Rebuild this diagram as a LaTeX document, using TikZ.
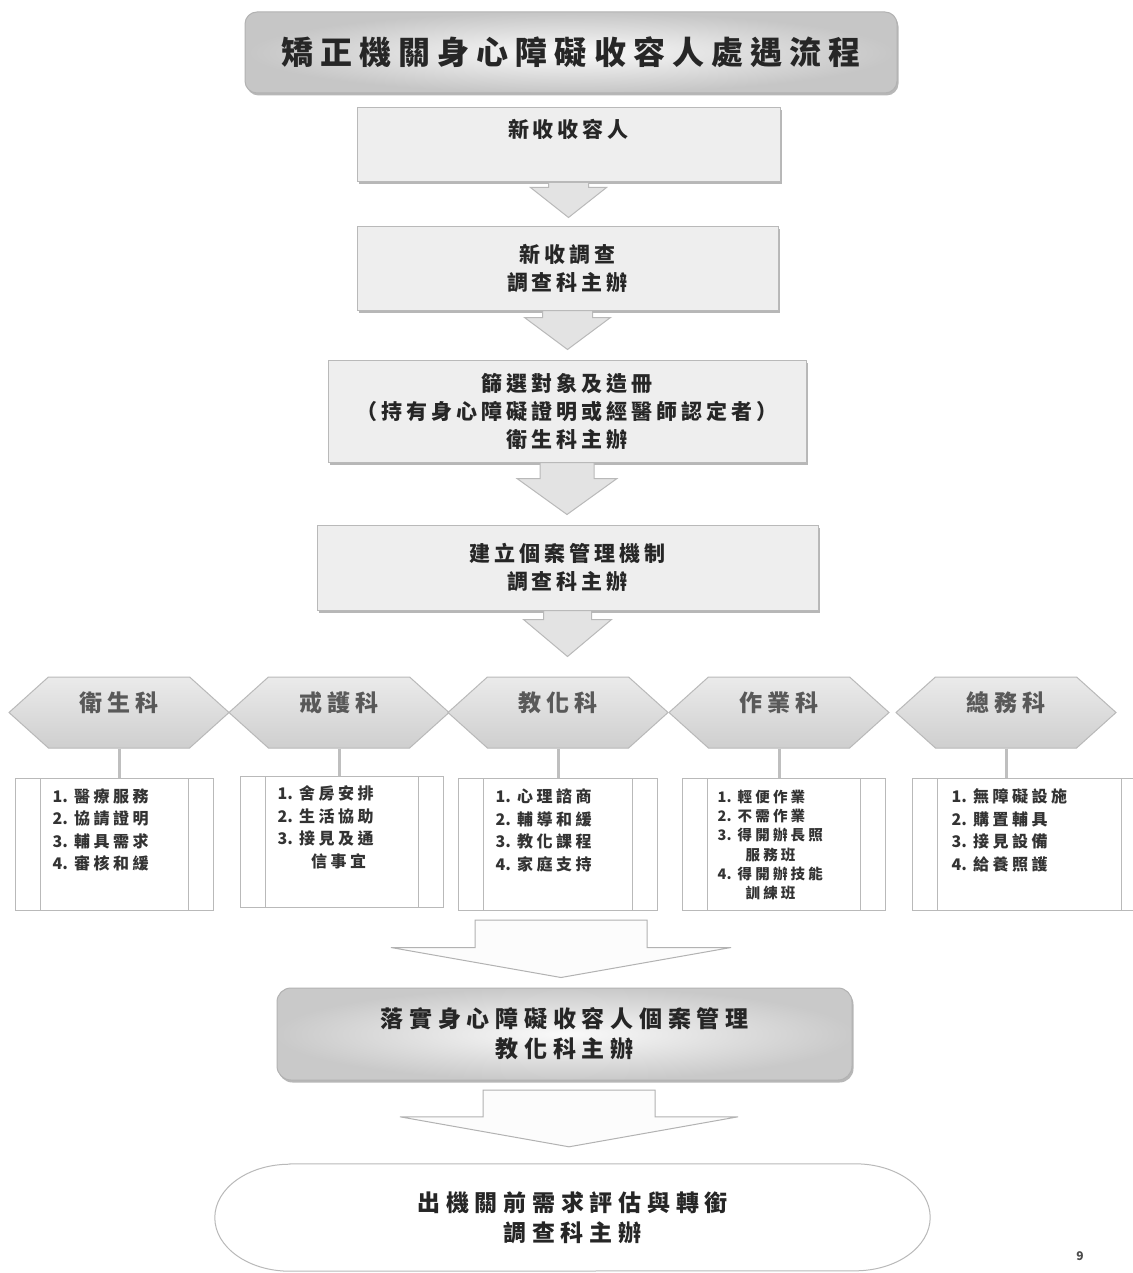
\documentclass[tikz,border=0pt]{standalone}
\usepackage{fontspec}
\newfontfamily\cjk{Noto Sans CJK TC}
\usetikzlibrary{calc,shapes.symbols,shadows}

\newcommand{\titlefont}{\cjk\bfseries\fontsize{32}{38}\addfontfeature{LetterSpace=22}}
\newcommand{\boxfont}{\cjk\bfseries\fontsize{21}{28}\addfontfeature{LetterSpace=19}}
\newcommand{\bigfont}{\cjk\bfseries\fontsize{23}{30}\addfontfeature{LetterSpace=25}}
\newcommand{\hexfont}{\cjk\bfseries\fontsize{23}{27}\addfontfeature{LetterSpace=20}}
\newcommand{\listfont}{\cjk\bfseries\fontsize{16}{22.5}\addfontfeature{LetterSpace=22}}
\newcommand{\smalllistfont}{\cjk\bfseries\fontsize{14.5}{19.3}\addfontfeature{LetterSpace=22}}
\newcommand{\itemno}[1]{{\addfontfeature{LetterSpace=0}#1}\hspace{6pt}}

\newcommand{\fatarrow}[7][]{%
  \draw[blockarr,#1] ($(#2)+(-#5,0)$) -- ($(#2|-#3.north)+(-#5,#4+#7)$)
    -- ($(#2|-#3.north)+(-#6,#4+#7)$) -- ($(#2|-#3.north)+(0,#4)$)
    -- ($(#2|-#3.north)+(#6,#4+#7)$) -- ($(#2|-#3.north)+(#5,#4+#7)$)
    -- ($(#2)+(#5,0)$) -- cycle;}

\begin{document}
\begin{tikzpicture}[x=1pt,y=1pt,
      shade/.style={drop shadow={shadow xshift=1.5pt,shadow yshift=-2.5pt,fill=gray!70,opacity=0.8}},
      titlebox/.style={draw=gray!60,line width=1pt,rounded corners=12pt,shading=radial,inner color=gray!4,outer color=gray!45,shade,font=\titlefont,text=black!85},
      stepbox/.style={draw=gray!55,line width=1pt,fill=gray!13,shade,align=center,font=\boxfont,text=black!85},
      implbox/.style={draw=gray!60,line width=1pt,rounded corners=14pt,shading=radial,inner color=gray!4,outer color=gray!42,shade,align=center,font=\bigfont,text=black!85},
      exitbox/.style={align=center,font=\bigfont,text=black!85},
      hexbox/.style={signal,signal to=west and east,signal pointer angle=84,draw=gray!55,line width=1pt,top color=gray!16,bottom color=gray!38,minimum width=220,minimum height=71,inner sep=0pt,font=\hexfont,text=black!65,text height=10pt,text depth=12pt},
      listbox/.style={draw=gray!55,line width=1pt,fill=white,minimum height=132,
        path picture={\draw[gray!55,line width=1pt] ([xshift=25pt]path picture bounding box.north west) -- ([xshift=25pt]path picture bounding box.south west)
          ([xshift=-25pt]path picture bounding box.north east) -- ([xshift=-25pt]path picture bounding box.south east);}},
      listtxt/.style={font=\listfont,align=left,anchor=north west,inner sep=0pt,text=black!80},
      stem/.style={draw=gray!50,line width=3pt},
      blockarr/.style={fill=gray!22,draw=gray!55,line width=1pt,line join=miter},
      bigarr/.style={fill=gray!2,draw=gray!60}]
      \useasboundingbox[fill=white] (0,0) rectangle (1132,-1273);

      \node[titlebox,minimum width=652,minimum height=81] (title) at (571,-52.5) {矯正機關身心障礙收容人處遇流程};

      \node[stepbox,minimum width=423,minimum height=74,text height=8pt,text depth=23pt] (intake) at (568.5,-145) {新收收容人};
      \node[stepbox,minimum width=421,minimum height=83] (survey) at (567.5,-268.5) {新收調查\\調查科主辦};
      \node[stepbox,minimum width=478,minimum height=102] (screen) at (567,-411) {篩選對象及造冊\\（持有身心障礙證明或經醫師認定者）\\衛生科主辦};
      \node[stepbox,minimum width=501,minimum height=85] (casemgmt) at (567.5,-567.5) {建立個案管理機制\\調查科主辦};

      \fatarrow{intake.south}{survey}{9}{20}{38}{30}
      \fatarrow{survey.south}{screen}{10}{25}{43}{32}
      \fatarrow{screen.south}{casemgmt}{10}{27}{50}{36}

      % five sections
      \node[hexbox] (hws) at (119,-712.5) {衛生科};
      \node[hexbox] (hgd) at (339,-712.5) {戒護科};
      \node[hexbox] (hjh) at (558,-712.5) {教化科};
      \node[hexbox] (hzy) at (779,-712.5) {作業科};
      \node[hexbox] (hzw) at (1006,-712.5) {總務科};

      \fatarrow{casemgmt.south}{hjh}{20}{24}{44}{37}

      \node[listbox,minimum width=198] (lws) at (114,-844) {};
      \node[listbox,minimum width=203,minimum height=131] (lgd) at (341.5,-841.5) {};
      \node[listbox,minimum width=199] (ljh) at (557.5,-844) {};
      \node[listbox,minimum width=203] (lzy) at (783.5,-844) {};
      \node[listbox,minimum width=234] (lzw) at (1029,-844) {};

      \node[listtxt] (lws-t) at ($(lws.north west)+(38,-11)$) {\itemno{1.}醫療服務\\\itemno{2.}協請證明\\\itemno{3.}輔具需求\\\itemno{4.}審核和緩};
      \node[listtxt] (lgd-t) at ($(lgd.north west)+(38,-10)$) {\itemno{1.}舍房安排\\\itemno{2.}生活協助\\\itemno{3.}接見及通\\\phantom{\itemno{3.}}\hspace*{12pt}信事宜};
      \node[listtxt] (ljh-t) at ($(ljh.north west)+(38,-11)$) {\itemno{1.}心理諮商\\\itemno{2.}輔導和緩\\\itemno{3.}教化課程\\\itemno{4.}家庭支持};
      \node[listtxt,font=\smalllistfont] (lzy-t) at ($(lzy.north west)+(36,-12)$) {\itemno{1.}輕便作業\\\itemno{2.}不需作業\\\itemno{3.}得開辦長照\\\phantom{\itemno{3.}}\hspace*{8pt}服務班\\\itemno{4.}得開辦技能\\\phantom{\itemno{4.}}\hspace*{8pt}訓練班};
      \node[listtxt] (lzw-t) at ($(lzw.north west)+(40,-11)$) {\itemno{1.}無障礙設施\\\itemno{2.}購置輔具\\\itemno{3.}接見設備\\\itemno{4.}給養照護};

      \draw[stem] (hws.south) -- (hws.south |- lws.north);
      \draw[stem] (hgd.south) -- (hgd.south |- lgd.north);
      \draw[stem] (hjh.south) -- (hjh.south |- ljh.north);
      \draw[stem] (hzy.south) -- (hzy.south |- lzy.north);
      \draw[stem] (hzw.south) -- (hzw.south |- lzw.north);

      \node[implbox,minimum width=575,minimum height=92] (impl) at (564.5,-1034) {落實身心障礙收容人個案管理\\教化科主辦};
      \node[exitbox,minimum width=715,minimum height=107] (exit) at (572.5,-1217.5) {出機關前需求評估與轉銜\\調查科主辦};
      \draw[draw=gray!55,line width=1pt] ($(exit.north west)+(75,0)$) -- ($(exit.north east)+(-75,0)$)
        arc[start angle=90,end angle=-90,x radius=75,y radius=53.5] -- ($(exit.south west)+(75,0)$)
        arc[start angle=270,end angle=90,x radius=75,y radius=53.5] -- cycle;

      \coordinate (merge) at (561,-920);
      \coordinate (leave) at (569,-1090);
      \fatarrow[bigarr]{merge}{impl}{10}{86}{170}{30}
      \fatarrow[bigarr]{leave}{exit}{17}{86}{169}{30}

      \node[font=\cjk\bfseries\fontsize{12}{14}\selectfont,text=black!70] (page) at (1080,-1256) {9};
    \end{tikzpicture}
\end{document}
